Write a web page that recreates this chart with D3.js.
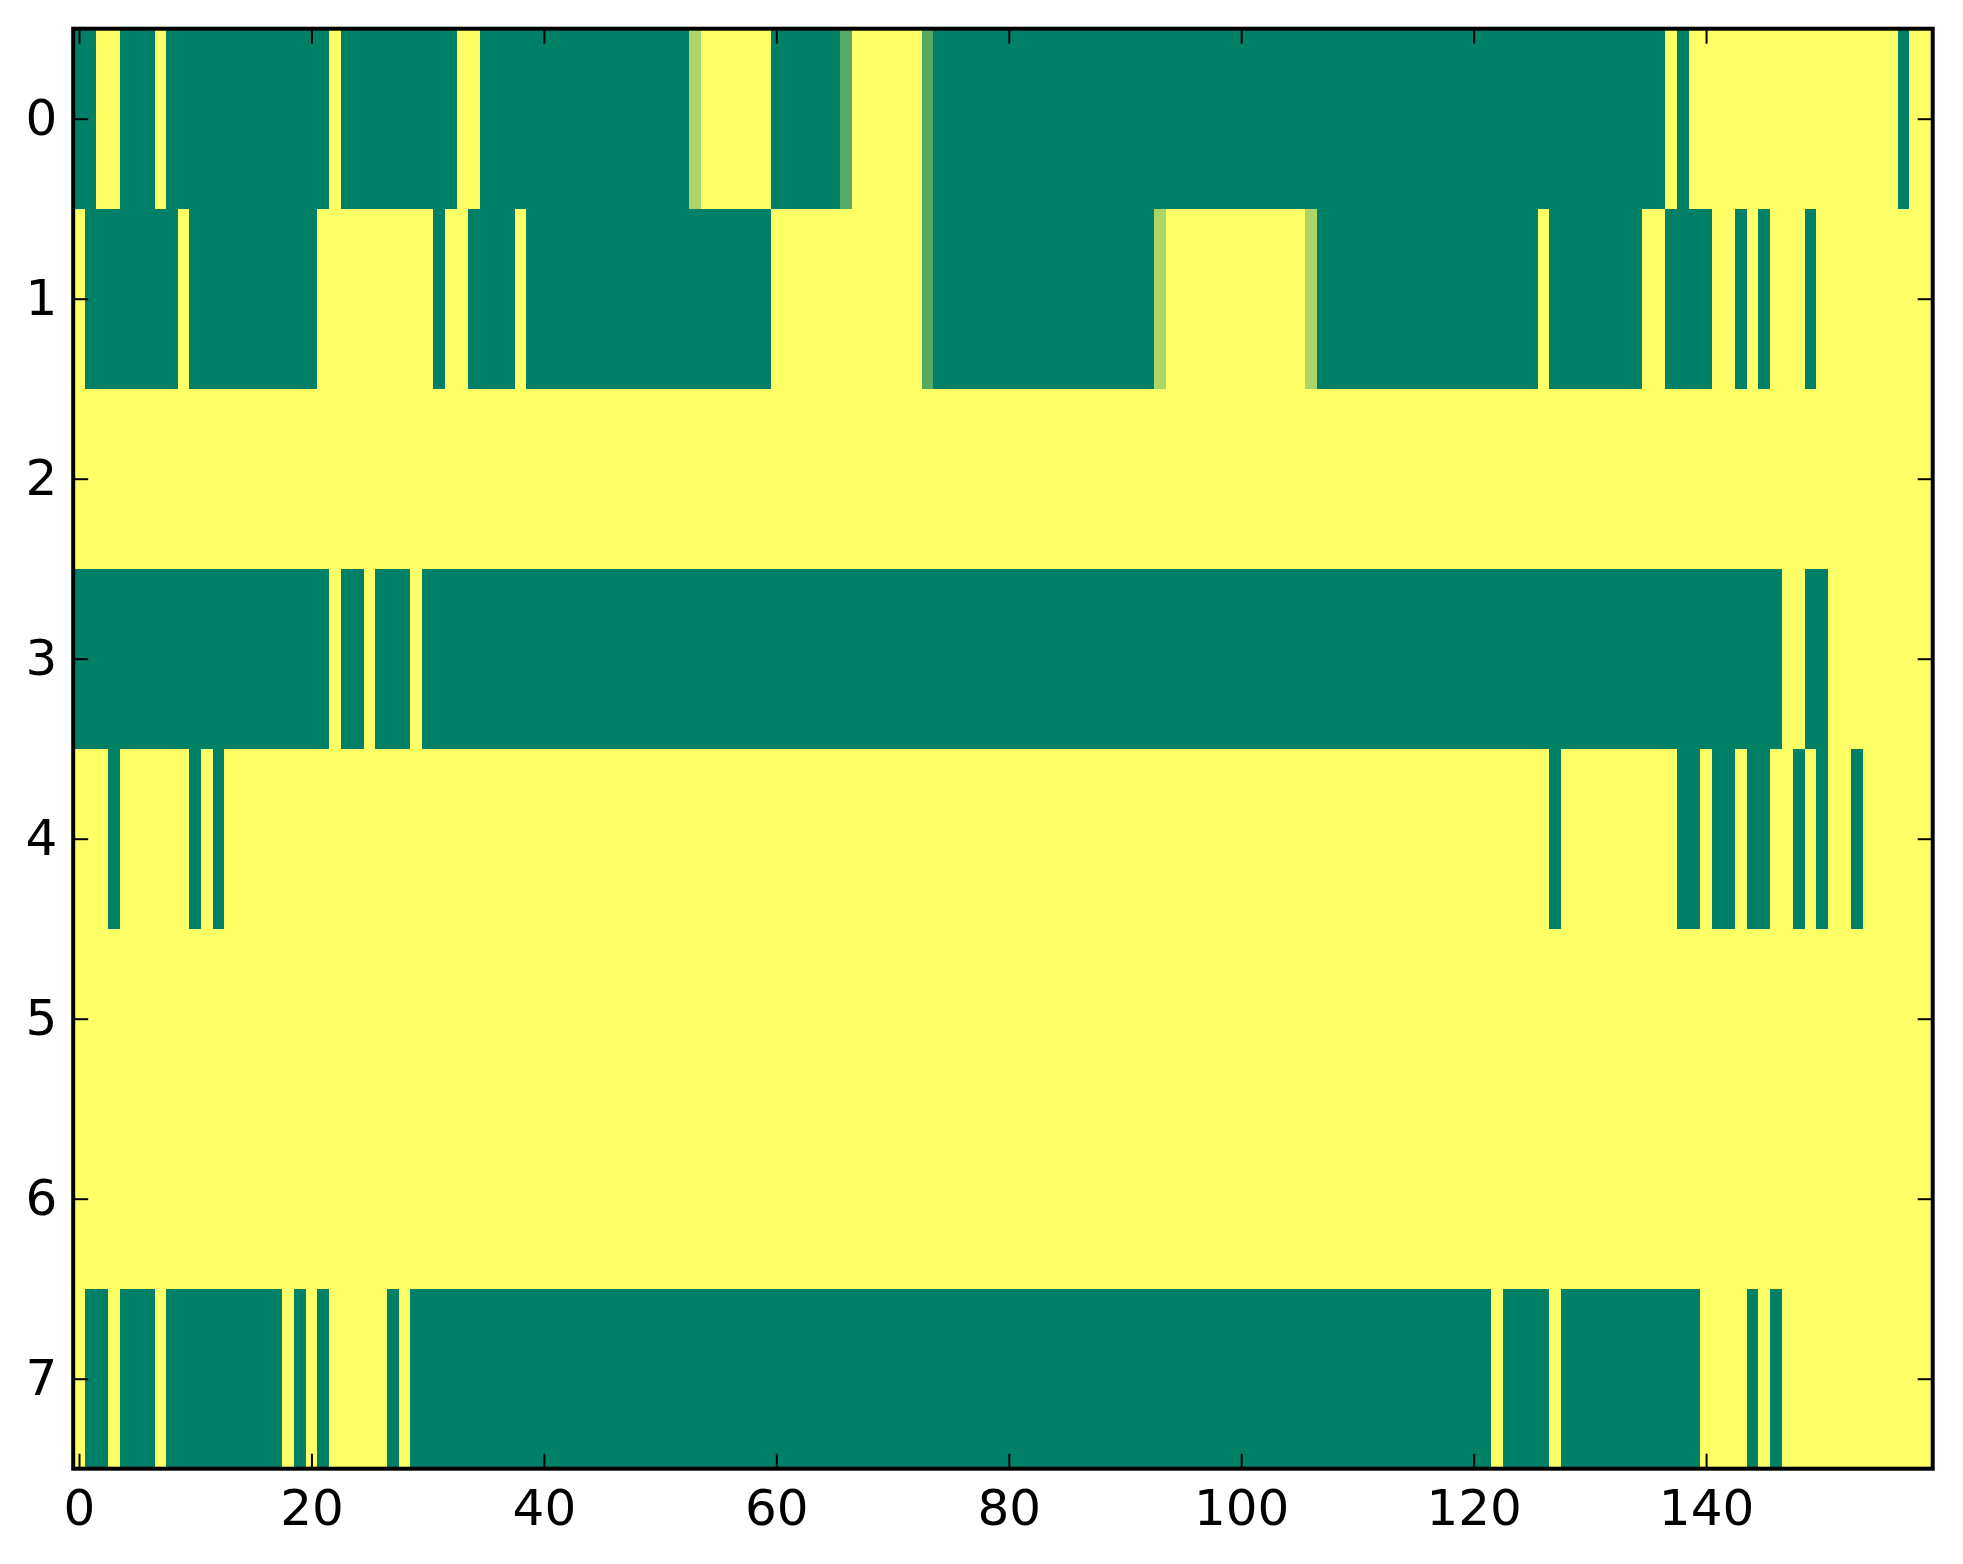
<!DOCTYPE html>
<html>
<head>
<meta charset="utf-8">
<script src="https://cdn.jsdelivr.net/npm/d3@7"></script>
<style>
  html, body { margin: 0; padding: 0; background: #fff; }
  svg { display: block; }
</style>
</head>
<body>
<svg id="chart"></svg>
<script>
// Each row is a list of [value, run length], left to right (160 columns).
const row0 = [[0,2],[1,2],[0,3],[1,1],[0,14],[1,1],[0,10],[1,2],[0,18],[0.67,1],[1,6],[0,6],[0.33,1],[1,6],[0.33,1],[0,63],[1,1],[0,1],[1,18],[0,1],[1,2]];
const row1 = [[1,1],[0,8],[1,1],[0,11],[1,10],[0,1],[1,2],[0,4],[1,1],[0,21],[1,13],[0.33,1],[0,19],[0.67,1],[1,12],[0.67,1],[0,19],[1,1],[0,8],[1,2],[0,4],[1,2],[0,1],[1,1],[0,1],[1,3],[0,1],[1,10]];
const row2 = [[1,160]];
const row3 = [[0,22],[1,1],[0,2],[1,1],[0,3],[1,1],[0,117],[1,2],[0,2],[1,9]];
const row4 = [[1,3],[0,1],[1,6],[0,1],[1,1],[0,1],[1,114],[0,1],[1,10],[0,2],[1,1],[0,2],[1,1],[0,2],[1,2],[0,1],[1,1],[0,1],[1,2],[0,1],[1,6]];
const row5 = [[1,160]];
const row6 = [[1,160]];
const row7 = [[1,1],[0,2],[1,1],[0,3],[1,1],[0,10],[1,1],[0,1],[1,1],[0,1],[1,5],[0,1],[1,1],[0,93],[1,1],[0,4],[1,1],[0,12],[1,4],[0,1],[1,1],[0,1],[1,13]];

const rows = [row0, row1, row2, row3, row4, row5, row6, row7];
const xTicks = [0, 20, 40, 60, 80, 100, 120, 140];
const yTicks = [0, 1, 2, 3, 4, 5, 6, 7];

const width = 1963, height = 1564;
const plotLeft = 73.2, plotRight = 1932.7, plotTop = 28.7, plotBottom = 1468.7;
const tickLen = 15;

const svg = d3.select("#chart")
  .attr("width", width)
  .attr("height", height)
  .style("font-family", "'DejaVu Sans', sans-serif");

const x = d3.scaleLinear().domain([-0.5, 159.5]).range([plotLeft, plotRight]);
const y = d3.scaleLinear().domain([-0.5, 7.5]).range([plotTop, plotBottom]);

// matplotlib "summer": 0 -> teal green, 1 -> yellow
const color = d3.scaleLinear()
  .domain([0, 1])
  .range(["#008066", "#ffff66"])
  .interpolate(d3.interpolateRgb);

// expand runs into cells
const cells = [];
rows.forEach((runs, r) => {
  let c = 0;
  runs.forEach(([v, n]) => {
    for (let k = 0; k < n; k++) cells.push({ row: r, col: c++, value: v });
  });
});

const g = svg.append("g");

g.selectAll("rect.cell")
  .data(cells)
  .join("rect")
  .attr("class", "cell")
  .attr("x", d => x(d.col - 0.5))
  .attr("y", d => y(d.row - 0.5))
  .attr("width", x(1) - x(0) + 0.5)
  .attr("height", y(1) - y(0) + 0.5)
  .attr("fill", d => color(d.value))
  .attr("shape-rendering", "crispEdges");

// Axes, ticks pointing inward on all four sides
const styleAxis = sel => {
  sel.select(".domain").remove();
  sel.selectAll(".tick line").attr("stroke", "#000").attr("stroke-width", 2);
  sel.selectAll(".tick text").attr("fill", "#000").attr("font-size", "50px");
};

svg.append("g")
  .attr("transform", `translate(0,${plotBottom})`)
  .call(d3.axisBottom(x).tickValues(xTicks).tickSizeInner(-tickLen).tickSizeOuter(0).tickPadding(21))
  .call(styleAxis)
  .attr("font-family", null);

svg.append("g")
  .attr("transform", `translate(0,${plotTop})`)
  .call(d3.axisTop(x).tickValues(xTicks).tickSizeInner(-tickLen).tickSizeOuter(0).tickFormat(""))
  .call(styleAxis);

svg.append("g")
  .attr("transform", `translate(${plotLeft},0)`)
  .call(d3.axisLeft(y).tickValues(yTicks).tickSizeInner(-tickLen).tickSizeOuter(0).tickPadding(16))
  .call(styleAxis)
  .attr("font-family", null);

svg.append("g")
  .attr("transform", `translate(${plotRight},0)`)
  .call(d3.axisRight(y).tickValues(yTicks).tickSizeInner(-tickLen).tickSizeOuter(0).tickFormat(""))
  .call(styleAxis);

// frame
svg.append("rect")
  .attr("x", plotLeft)
  .attr("y", plotTop)
  .attr("width", plotRight - plotLeft)
  .attr("height", plotBottom - plotTop)
  .attr("fill", "none")
  .attr("stroke", "#000")
  .attr("stroke-width", 4);
</script>
</body>
</html>
